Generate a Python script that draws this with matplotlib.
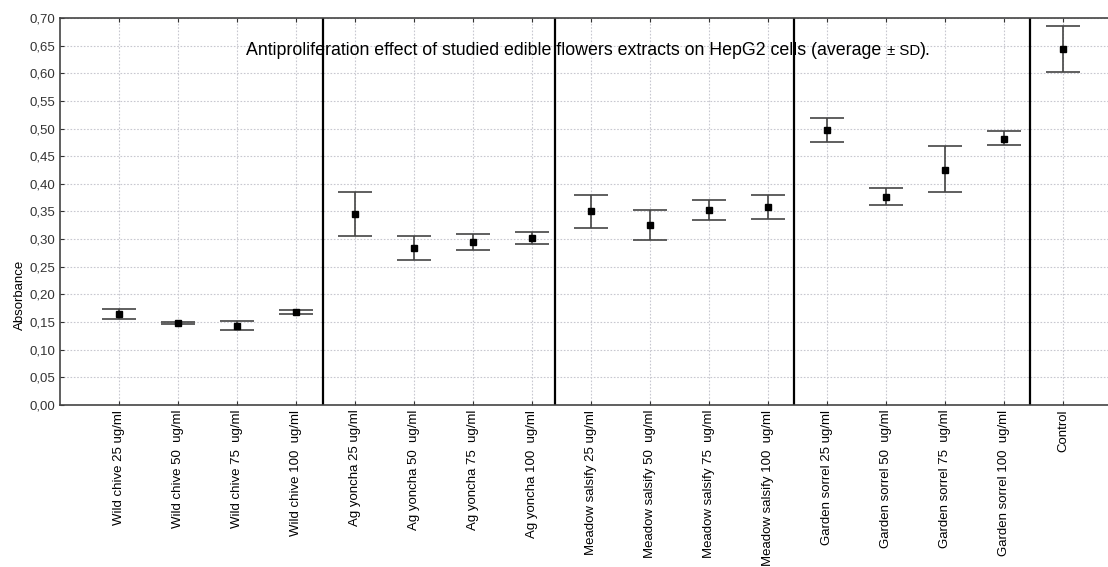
import numpy as np
import matplotlib.pyplot as plt
from matplotlib.ticker import FuncFormatter

plt.rcParams["font.family"] = ["Liberation Sans", "DejaVu Sans"]

# Sample names and measured absorbance (mean, lower and upper SD bounds)
labels = [
    "Wild chive 25 ug/ml", "Wild chive 50  ug/ml", "Wild chive 75  ug/ml", "Wild chive 100  ug/ml",
    "Ag yoncha 25 ug/ml", "Ag yoncha 50  ug/ml", "Ag yoncha 75  ug/ml", "Ag yoncha 100  ug/ml",
    "Meadow salsify 25 ug/ml", "Meadow salsify 50  ug/ml", "Meadow salsify 75  ug/ml", "Meadow salsify 100  ug/ml",
    "Garden sorrel 25 ug/ml", "Garden sorrel 50  ug/ml", "Garden sorrel 75  ug/ml", "Garden sorrel 100  ug/ml",
    "Control",
]
mean = [0.164, 0.148, 0.143, 0.168,
        0.345, 0.284, 0.294, 0.302,
        0.350, 0.325, 0.353, 0.358,
        0.497, 0.376, 0.426, 0.482,
        0.644]
low = [0.155, 0.146, 0.135, 0.165,
       0.305, 0.263, 0.280, 0.291,
       0.320, 0.299, 0.335, 0.337,
       0.476, 0.361, 0.385, 0.470,
       0.602]
high = [0.173, 0.150, 0.152, 0.172,
        0.385, 0.305, 0.309, 0.312,
        0.380, 0.352, 0.371, 0.380,
        0.519, 0.392, 0.468, 0.495,
        0.686]
separators = [3.46, 7.39, 11.44, 15.44]

x = np.arange(len(labels))
mean = np.array(mean)
yerr = [mean - np.array(low), np.array(high) - mean]

fig = plt.figure(figsize=(11.08, 5.67), dpi=100)
ax = fig.add_axes([0.054, 0.286, 0.946, 0.682])

ax.errorbar(x, mean, yerr=yerr, fmt="s", color="black", markersize=5,
            ecolor="#444444", elinewidth=1.2, capsize=12, capthick=1.2, zorder=3)
for s in separators:
    ax.axvline(s, color="black", linewidth=1.6, zorder=2)

ax.set_xlim(-1, 16.76)
ax.set_ylim(0, 0.70)
ax.set_yticks(np.arange(0, 0.701, 0.05))
ax.yaxis.set_major_formatter(FuncFormatter(lambda v, p: f"{v:.2f}".replace(".", ",")))
ax.set_xticks(x)
ax.set_xticklabels(labels, rotation=90, fontsize=9.5)
ax.tick_params(axis="y", labelsize=9.5, direction="in", length=3, colors="#333333")
ax.tick_params(axis="x", direction="in", length=3, top=True, colors="#333333")
for lab in ax.get_xticklabels():
    lab.set_color("black")

ax.grid(True, linestyle=(0, (1.5, 1.5)), color="#c8c8d0", linewidth=0.8, zorder=0)
ax.spines["right"].set_visible(False)
for side in ["left", "bottom", "top"]:
    ax.spines[side].set_color("#444444")
    ax.spines[side].set_linewidth(1.2)

ax.set_ylabel("Absorbance", fontsize=9.5)
ax.yaxis.set_label_coords(-0.032, 0.284)

ty = 0.905
ax.text(0.178, ty, "Antiproliferation effect of studied edible flowers extracts on HepG2 cells (average ",
        transform=ax.transAxes, fontsize=12.8, va="baseline", ha="left")
fig.canvas.draw()
bb = ax.texts[0].get_window_extent().transformed(ax.transAxes.inverted())
ax.text(bb.x1, ty, "± SD", transform=ax.transAxes, fontsize=10.8, va="baseline", ha="left")
fig.canvas.draw()
bb2 = ax.texts[1].get_window_extent().transformed(ax.transAxes.inverted())
ax.text(bb2.x1, ty, ").", transform=ax.transAxes, fontsize=12.8, va="baseline", ha="left")

fig.savefig("out.png", dpi=100)
